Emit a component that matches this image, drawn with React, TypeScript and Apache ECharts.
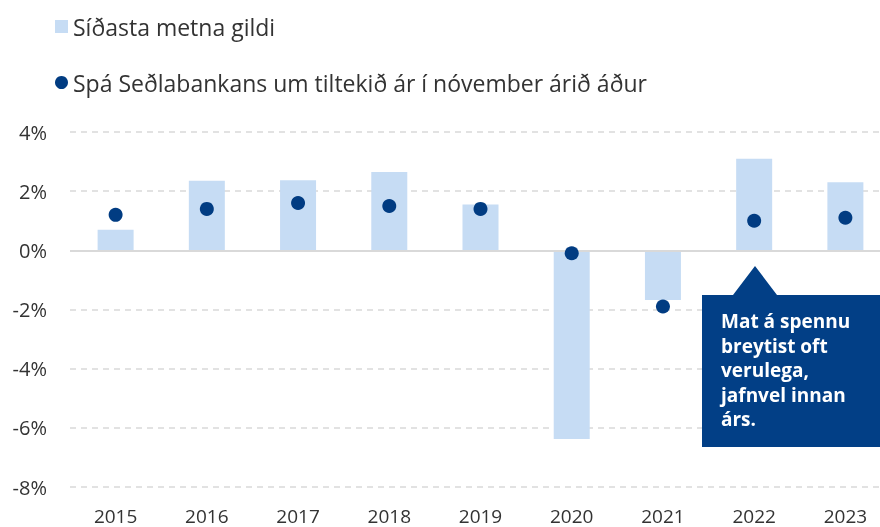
import React, { useEffect, useRef } from "react";
import * as echarts from "echarts";

const years = ["2015", "2016", "2017", "2018", "2019", "2020", "2021", "2022", "2023"];
const lastEstimate = [0.7, 2.35, 2.37, 2.65, 1.55, -6.38, -1.68, 3.1, 2.3];
const cbForecast = [1.2, 1.4, 1.6, 1.5, 1.4, -0.1, -1.9, 1.0, 1.1];
const barName = "Síðasta metna gildi";
const dotName = "Spá Seðlabankans um tiltekið ár í nóvember árið áður";
const noteLines = ["Mat á spennu", "breytist oft", "verulega,", "jafnvel innan", "árs."];

const FONT = "'Open Sans', 'Noto Sans', sans-serif";

export default function App() {
  const ref = useRef<HTMLDivElement>(null);
  useEffect(() => {
    if (!ref.current) return;
    const chart = echarts.init(ref.current, undefined, { renderer: "svg" });
    chart.setOption({
      animation: false,
      legend: {
        orient: "vertical",
        left: 50,
        top: 9,
        itemGap: 31,
        itemWidth: 13,
        itemHeight: 13,
        textStyle: { fontFamily: FONT, fontSize: 23, color: "#333", lineHeight: 25 },
        data: [
          { name: barName, icon: "rect" },
          { name: dotName, icon: "circle" },
        ],
        selectedMode: false,
      },
      grid: { left: 70, width: 821, top: 132, bottom: 40, outerBoundsMode: "none", containLabel: false },
      xAxis: {
        type: "category",
        data: years,
        axisLine: { show: false },
        axisTick: { show: false },
        axisLabel: { fontFamily: FONT, fontSize: 19, lineHeight: 19, color: "#333", margin: 19 },
      },
      yAxis: {
        type: "value",
        min: -8,
        max: 4,
        interval: 2,
        axisLine: { show: false },
        axisTick: { show: false },
        axisLabel: {
          fontFamily: FONT,
          fontSize: 20,
          color: "#333",
          margin: 23,
          formatter: (v: number) => `${v}%`,
        },
        splitLine: { lineStyle: { color: "#d9d9d9", type: [6, 5], width: 1.5 } },
      },
      series: [
        {
          name: barName,
          type: "bar",
          data: lastEstimate,
          barWidth: 36,
          itemStyle: { color: "#c6dcf4" },
          markLine: {
            silent: true,
            symbol: "none",
            label: { show: false },
            lineStyle: { color: "#d9d9d9", type: "solid", width: 2 },
            data: [{ yAxis: 0 }],
          },
        },
        {
          name: dotName,
          type: "scatter",
          data: cbForecast,
          symbolSize: 14,
          itemStyle: { color: "#013c82", opacity: 1 },
          z: 5,
        },
      ],
      graphic: [
        {
          type: "polygon",
          shape: {
            points: [
              [702, 295],
              [733, 295],
              [755, 266],
              [777, 295],
              [880, 295],
              [880, 447],
              [702, 447],
            ],
          },
          style: { fill: "#023f86" },
          z: 10,
        },
        {
          type: "text",
          left: 721,
          top: 309,
          z: 11,
          style: {
            text: noteLines.join("\n"),
            fill: "#ffffff",
            font: `bold 19px ${FONT}`,
            lineHeight: 24.5,
          },
        },
      ],
    });
    return () => chart.dispose();
  }, []);
  return <div ref={ref} style={{ position: "fixed", left: 0, top: 0, width: 880, height: 527 }} />;
}
